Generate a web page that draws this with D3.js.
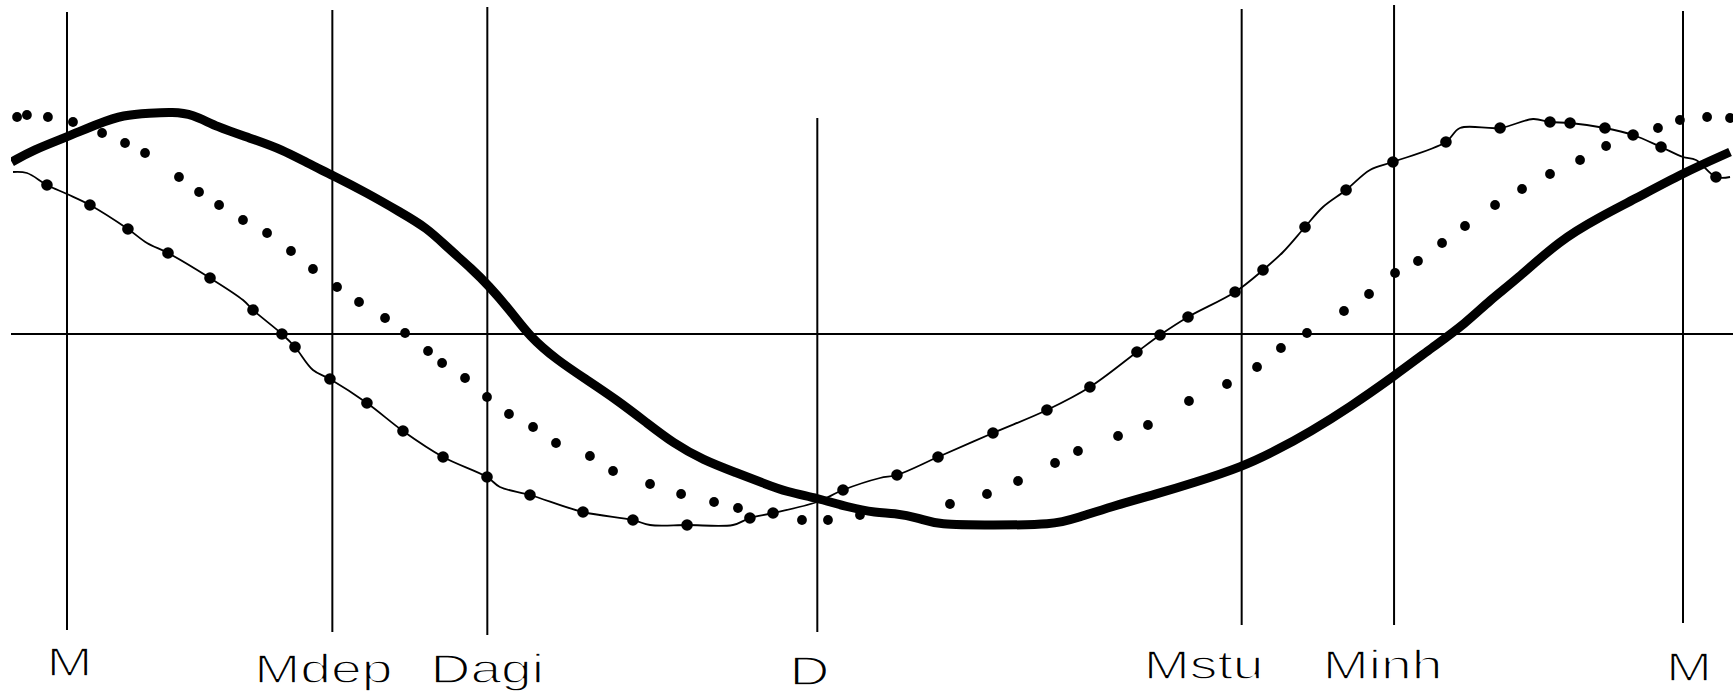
<!DOCTYPE html>
<html>
<head>
<meta charset="utf-8">
<script src="https://cdn.jsdelivr.net/npm/d3@7"></script>
<style>
  html, body { margin: 0; padding: 0; background: #fff; }
  svg { display: block; }
</style>
</head>
<body>
<div id="chart"></div>
<script>
// ---- Data (x = phase of cycle, 0..100 between the two M events; y = relative value) ----
const eventLabels = ["M", "Mdep", "Dagi", "D", "Mstu", "Minh", "M"];
const eventPhase  = [0, 16.42, 26.01, 46.43, 72.69, 82.12, 100];

// thick solid curve
const thickX = [-3.42,-2.10,-0.02,2.04,3.47,5.14,6.56,7.74,9.28,11.32,13.37,14.85,16.40,18.56,20.61,22.28,23.51,25.12,26.05,27.41,28.65,30.32,32.18,34.03,35.89,37.50,39.36,41.46,43.07,44.55,46.41,48.27,50.12,51.11,52.78,53.84,57.30,61.01,62.50,64.54,67.64,69.68,72.71,74.88,76.92,79.39,82.05,84.53,86.57,88.06,89.67,92.39,94.86,96.91,100.0,102.91];
const thickY = [1.72,1.84,1.97,2.11,2.19,2.21,2.22,2.20,2.07,1.96,1.84,1.71,1.59,1.41,1.22,1.06,0.87,0.64,0.49,0.24,-0.03,-0.26,-0.46,-0.66,-0.89,-1.09,-1.26,-1.39,-1.49,-1.58,-1.64,-1.73,-1.79,-1.79,-1.84,-1.91,-1.91,-1.91,-1.84,-1.73,-1.59,-1.49,-1.33,-1.16,-0.98,-0.73,-0.43,-0.13,0.11,0.34,0.54,0.94,1.17,1.34,1.61,1.82];

// thin line with markers (marker flag 1 = point drawn with a marker)
const thinX = [-3.34,-2.48,-1.24,0,1.42,3.77,4.95,6.25,8.85,10.89,11.51,13.30,14.11,15.22,16.27,18.56,20.79,23.27,25.99,26.79,28.65,31.93,35.02,36.08,38.37,41.21,42.26,43.69,46.41,48.02,50.31,51.36,53.90,57.30,60.64,63.30,66.21,67.64,69.37,72.28,74.01,75.25,76.61,77.72,79.15,80.63,82.05,85.33,86.20,88.68,90.72,91.77,93.01,95.17,96.91,98.64,100.0,100.8,102.04,102.91];
const thinY = [1.62,1.61,1.49,1.40,1.29,1.05,0.91,0.81,0.56,0.34,0.24,0.00,-0.13,-0.36,-0.45,-0.69,-0.97,-1.23,-1.43,-1.53,-1.61,-1.78,-1.86,-1.91,-1.91,-1.91,-1.84,-1.79,-1.68,-1.56,-1.44,-1.41,-1.23,-0.99,-0.76,-0.53,-0.18,-0.01,0.17,0.42,0.64,0.82,1.07,1.27,1.44,1.64,1.72,1.92,2.06,2.06,2.15,2.12,2.11,2.06,1.99,1.87,1.77,1.74,1.57,1.57];
const thinMarker = [0,0,1,0,1,1,0,1,1,0,1,1,1,0,1,1,1,1,1,0,1,1,1,0,1,0,1,1,0,1,0,1,1,1,1,1,1,1,1,1,1,0,1,0,1,0,1,1,0,1,0,1,1,1,1,1,0,0,1,0];

// dotted series (points only)
const dotX = [-3.09,-2.48,-1.18,0.37,2.17,3.59,4.83,6.93,8.17,9.41,10.89,12.38,13.86,15.22,16.71,18.07,19.68,20.92,22.34,23.21,24.63,25.99,27.35,28.84,30.26,32.36,33.79,36.08,38.00,40.04,41.52,45.48,47.09,49.07,54.64,56.93,58.85,61.14,62.56,65.04,66.89,69.43,71.78,73.64,75.12,76.73,79.02,80.57,82.18,83.60,85.09,86.51,88.37,90.04,91.77,93.63,95.24,98.45,99.81,101.49,102.91];
const dotY = [2.17,2.19,2.17,2.12,2.01,1.91,1.81,1.57,1.42,1.29,1.14,1.01,0.83,0.65,0.47,0.32,0.16,0.01,-0.17,-0.29,-0.44,-0.63,-0.80,-0.93,-1.09,-1.22,-1.37,-1.50,-1.60,-1.68,-1.74,-1.86,-1.86,-1.81,-1.70,-1.60,-1.47,-1.29,-1.17,-1.02,-0.91,-0.67,-0.50,-0.33,-0.14,0.01,0.23,0.40,0.61,0.73,0.91,1.08,1.29,1.45,1.60,1.74,1.88,2.06,2.14,2.17,2.16];

// ---- Layout (pixels) ----
const W = 1733, H = 694;
const lineTop    = [12, 10, 7, 118, 9, 5, 11];
const lineBottom = [630, 632, 635, 632, 625, 625, 623];
const labelDx    = [2.5, -9, 0, -8, -38, -11.5, 6];
const labelBase  = [676, 683, 683, 685, 679, 679, 681];

const x = d3.scaleLinear().domain([0, 100]).range([67, 1683]);
const y = d3.scaleLinear().domain([-2, 2]).range([534, 134]);

const svg = d3.select("#chart").append("svg")
  .attr("width", W).attr("height", H)
  .attr("viewBox", `0 0 ${W} ${H}`);
svg.append("rect").attr("width", W).attr("height", H).attr("fill", "#fff");

// horizontal zero line
svg.append("line")
  .attr("x1", 11).attr("x2", W)
  .attr("y1", y(0)).attr("y2", y(0))
  .attr("stroke", "#000").attr("stroke-width", 2);

// event lines
const events = eventLabels.map((l, i) => ({ label: l, phase: eventPhase[i], i }));
svg.append("g").selectAll("line").data(events).join("line")
  .attr("x1", d => x(d.phase)).attr("x2", d => x(d.phase))
  .attr("y1", d => lineTop[d.i]).attr("y2", d => lineBottom[d.i])
  .attr("stroke", "#000").attr("stroke-width", 2);

// event labels
svg.append("g").selectAll("text").data(events).join("text")
  .attr("transform", d => `translate(${x(d.phase) + labelDx[d.i]},${labelBase[d.i]}) scale(1.38,1)`)
  .attr("text-anchor", "middle")
  .attr("font-family", "'Liberation Sans', Arial, sans-serif")
  .attr("font-size", 40)
  .attr("fill", "#000")
  .attr("stroke", "#fff")
  .attr("stroke-width", 1.6)
  .attr("vector-effect", "non-scaling-stroke")
  .text(d => d.label);

svg.append("clipPath").attr("id", "plotclip")
  .append("rect").attr("x", 11).attr("y", 0).attr("width", W - 11).attr("height", H);

const plot = svg.append("g").attr("clip-path", "url(#plotclip)");

const thinLine = d3.line().x(d => x(d[0])).y(d => y(d[1])).curve(d3.curveCatmullRom.alpha(0.5));
const thickLine = d3.line().x(d => x(d[0])).y(d => y(d[1])).curve(d3.curveBasis);

// thin line with markers
const thin = thinX.map((v, i) => [v, thinY[i], thinMarker[i]]);
plot.append("path").datum(thin)
  .attr("d", thinLine)
  .attr("fill", "none").attr("stroke", "#000").attr("stroke-width", 1.8);
plot.append("g").selectAll("circle").data(thin.filter(d => d[2] === 1)).join("circle")
  .attr("cx", d => x(d[0])).attr("cy", d => y(d[1]))
  .attr("r", 5.8).attr("fill", "#000");

// dotted series
const dots = dotX.map((v, i) => [v, dotY[i]]);
plot.append("g").selectAll("circle").data(dots).join("circle")
  .attr("cx", d => x(d[0])).attr("cy", d => y(d[1]))
  .attr("r", 4.9).attr("fill", "#000");

// thick line
const thick = thickX.map((v, i) => [v, thickY[i]]);
plot.append("path").datum(thick)
  .attr("d", thickLine)
  .attr("fill", "none").attr("stroke", "#000").attr("stroke-width", 9)
  .attr("stroke-linejoin", "round").attr("stroke-linecap", "butt");
</script>
</body>
</html>
